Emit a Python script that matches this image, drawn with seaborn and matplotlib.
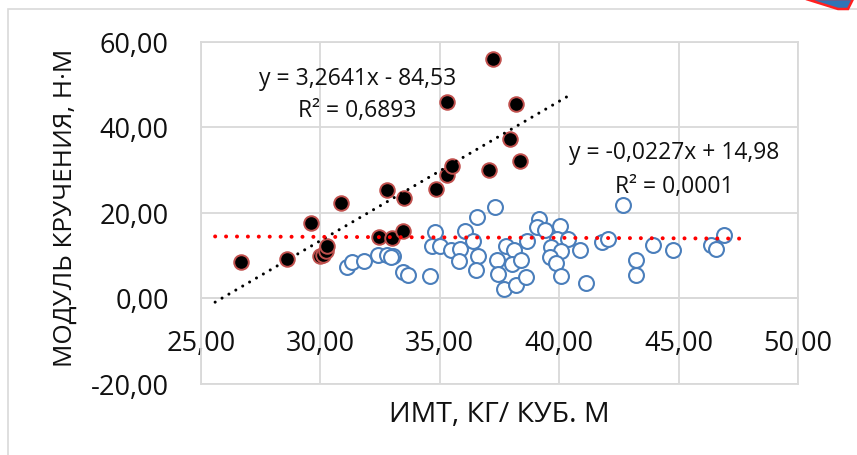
import numpy as np
import pandas as pd
import matplotlib
matplotlib.use("Agg")
import matplotlib.pyplot as plt
import seaborn as sns
from matplotlib.patches import Rectangle, Polygon

# ---------------- data ----------------
bmi_high = [26.67, 28.59, 29.60, 29.99, 30.13, 30.24, 30.29, 30.85, 32.47, 32.78,
            32.99, 33.45, 33.50, 34.84, 35.29, 35.30, 35.50, 37.05, 37.24, 37.95,
            38.18, 38.37]
torque_high = [8.35, 9.12, 17.5, 9.75, 10.06, 11.06, 12.09, 22.2, 14.2, 25.2,
               13.96, 15.6, 23.5, 25.5, 28.8, 45.9, 30.9, 29.9, 55.9, 37.2,
               45.45, 32.05]

bmi_low = [31.13, 31.31, 31.84, 32.43, 32.78, 33.05, 32.96, 33.47, 33.68, 34.61,
           34.81, 34.66, 35.01, 35.45, 35.86, 35.80, 36.05, 36.39, 36.56, 36.61,
           36.51, 37.31, 37.41, 37.43, 37.69, 37.77, 38.09, 38.04, 38.17, 38.40,
           38.61, 38.65, 39.16, 39.07, 39.40, 40.04, 39.90, 40.38, 39.65, 40.07,
           39.61, 39.87, 40.06, 40.87, 41.12, 41.77, 42.03, 42.68, 43.21, 43.21,
           43.93, 44.77, 46.33, 46.56, 46.89]
torque_low = [7.32, 8.35, 8.73, 10.06, 10.06, 9.90, 9.52, 6.08, 5.38, 5.08,
              15.51, 12.23, 12.23, 11.27, 11.46, 8.73, 15.74, 13.40, 19.0, 9.82,
              6.62, 21.2, 8.94, 5.50, 2.22, 12.16, 11.27, 7.88, 3.04, 8.94,
              4.84, 13.40, 18.4, 16.65, 15.95, 16.9, 13.8, 13.7, 11.86, 11.06,
              9.52, 8.19, 5.22, 11.23, 3.51, 13.1, 13.73, 21.75, 8.96, 5.38,
              12.4, 11.23, 12.51, 11.46, 14.74]

# trendlines as displayed (slope, intercept, R^2, x-range)
trend_high = dict(slope=3.2641, intercept=-84.53, r2=0.6893, x0=25.6, x1=40.4)
trend_low = dict(slope=-0.0227, intercept=14.98, r2=0.0001, x0=25.6, x1=47.75)

x_ticks = [25, 30, 35, 40, 45, 50]
y_ticks = [-20, 0, 20, 40, 60]

x_title = "ИМТ, КГ/ КУБ. М"
y_title = "МОДУЛЬ КРУЧЕНИЯ, Н·М"


def ru(v, nd):
    return f"{v:.{nd}f}".replace(".", ",")


def eq_text(t):
    sign = "-" if t["intercept"] < 0 else "+"
    return (f"y = {ru(t['slope'], 4)}x {sign} {ru(abs(t['intercept']), 2)}",
            f"R² = {ru(t['r2'], 4)}")

# ---------------- style ----------------
sns.set_style("white")
plt.rcParams["font.family"] = ["Open Sans", "DejaVu Sans"]

W, H = 857, 456
fig = plt.figure(figsize=(W / 100, H / 100), dpi=100)

def fx(px):
    return px / W

def fy(py):
    return 1 - py / H

L, R, T, B = 200.8, 798.3, 42.5, 384.5
ax = fig.add_axes([fx(L), fy(B), fx(R) - fx(L), fy(T) - fy(B)])

grid_c = "#d9d9d9"
txt_c = "#111111"
df_high = pd.DataFrame({"bmi": bmi_high, "torque": torque_high})
df_low = pd.DataFrame({"bmi": bmi_low, "torque": torque_low})

sns.scatterplot(data=df_high, x="bmi", y="torque", ax=ax, s=110,
                color="black", edgecolor="#c0504d", linewidth=1.4, zorder=3)
sns.scatterplot(data=df_low, x="bmi", y="torque", ax=ax, s=115,
                facecolor="white", edgecolor="#4a7ebb", linewidth=1.5, zorder=3)

# trendlines
for t, col, lw, gap in [(trend_high, "black", 2.2, 2.6), (trend_low, "red", 2.9, 2.7)]:
    xs = np.array([t["x0"], t["x1"]])
    ax.plot(xs, t["slope"] * xs + t["intercept"], color=col, lw=lw,
            linestyle=(0, (0.01, gap)), dash_capstyle="round", zorder=4)

ax.set_xlim(25, 50)
ax.set_ylim(-20, 60)
ax.set_xticks(x_ticks)
ax.set_yticks(y_ticks)
ax.set_xticklabels([ru(v, 2) for v in x_ticks])
ax.set_yticklabels([ru(v, 2) for v in y_ticks])
ax.grid(True, color=grid_c, lw=1.3, zorder=0)
ax.set_axisbelow(True)

for s in ["left", "right", "top"]:
    ax.spines[s].set_color(grid_c)
    ax.spines[s].set_linewidth(1.3)
ax.spines["bottom"].set_position(("data", 0))
ax.spines["bottom"].set_color(grid_c)
ax.spines["bottom"].set_linewidth(1.3)
ax.axhline(-20, color=grid_c, lw=1.3, clip_on=False, zorder=0)

ax.tick_params(axis="x", length=0, pad=22, labelsize=19.5, labelcolor=txt_c)
ax.tick_params(axis="y", length=0, pad=23, labelsize=19.5, labelcolor=txt_c)
ax.set_xlabel("")
ax.set_ylabel("")

fig.text(fx(499.5), fy(422), x_title, ha="center", va="baseline",
         fontsize=20.5, color=txt_c)
fig.text(fx(72), fy(207.5), y_title, ha="center", va="baseline",
         rotation=90, rotation_mode="anchor", fontsize=18.8, color=txt_c)

l1, l2 = eq_text(trend_high)
fig.text(fx(357.5), fy(85), l1, ha="center", va="baseline", fontsize=16.5, color=txt_c)
fig.text(fx(357.5), fy(116.7), l2, ha="center", va="baseline", fontsize=16.5, color=txt_c)
l1, l2 = eq_text(trend_low)
fig.text(fx(674.5), fy(159.3), l1, ha="center", va="baseline", fontsize=16.5, color=txt_c)
fig.text(fx(674.5), fy(192.7), l2, ha="center", va="baseline", fontsize=16.5, color=txt_c)

# chart border (extends past the image at right and bottom)
fig.patches.append(Rectangle((fx(8), fy(470)), fx(870) - fx(8), fy(10) - fy(470),
                             transform=fig.transFigure, fill=False,
                             edgecolor=grid_c, lw=1.2))
# small cut-off icon in the top-right corner
fig.patches.append(Polygon([(fx(806), fy(0)), (fx(853), fy(0)), (fx(848), fy(10)), (fx(838), fy(10))],
                           closed=True, transform=fig.transFigure,
                           facecolor="#2e75b6", edgecolor="#ff2020", lw=1.8))

fig.savefig("out.png", dpi=100)
